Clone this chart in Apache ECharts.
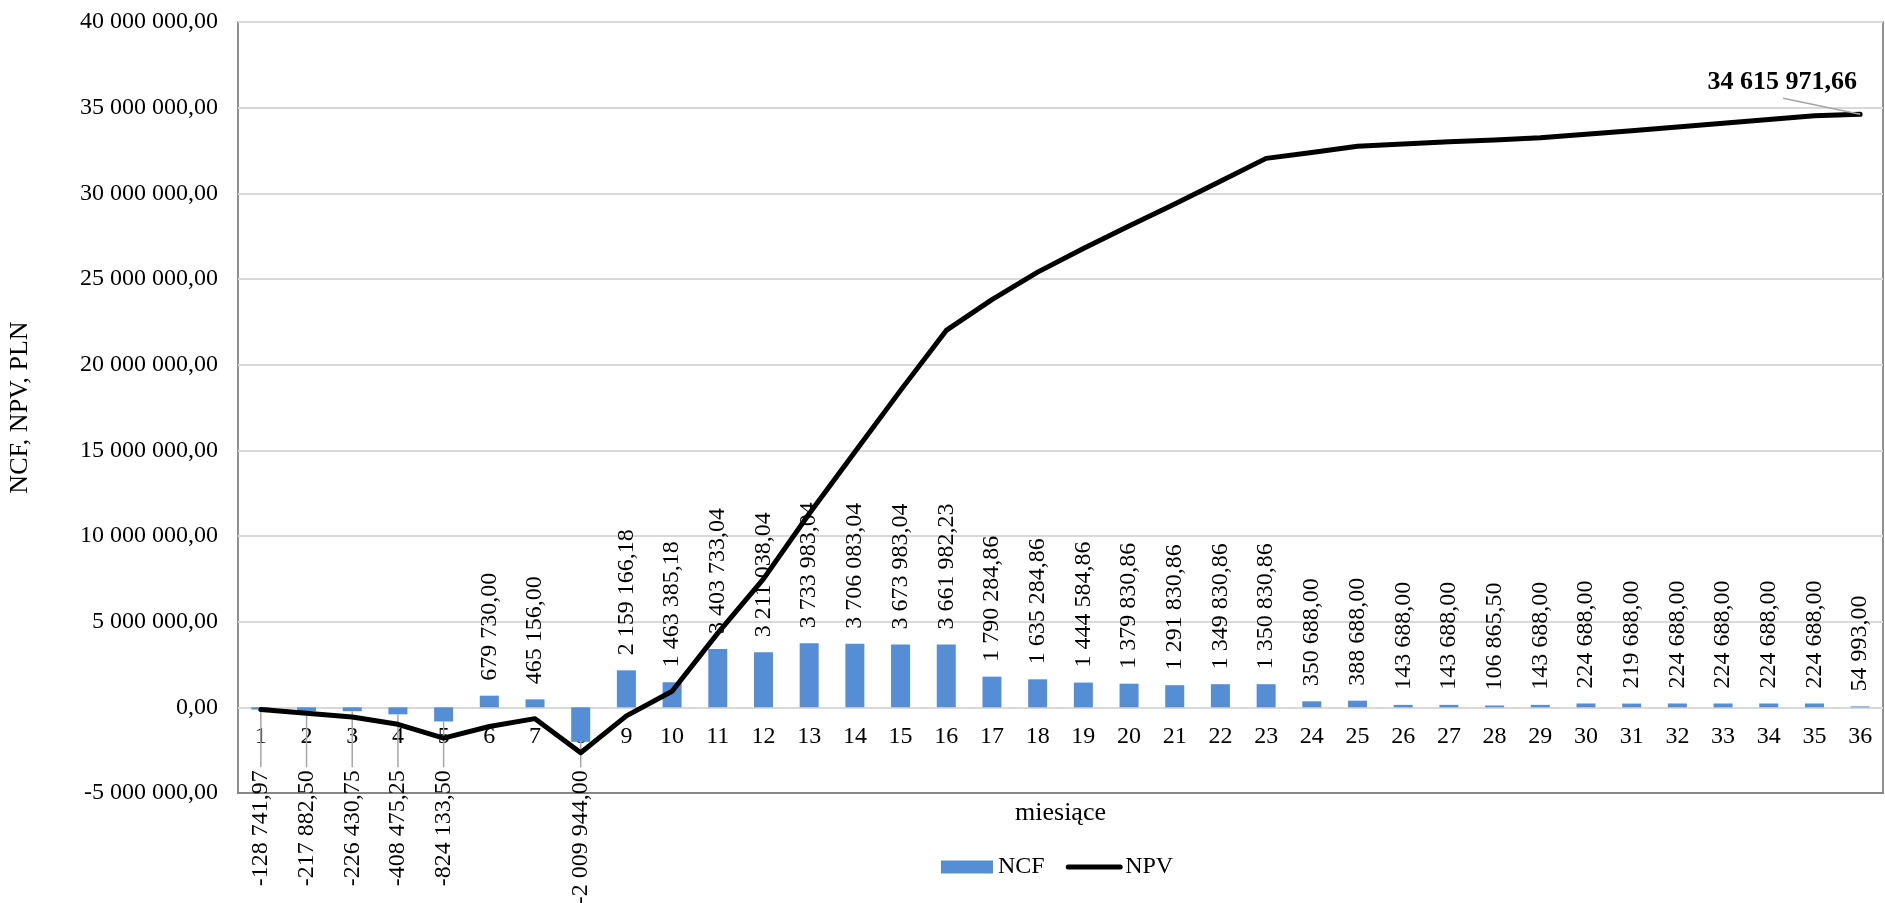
<!DOCTYPE html>
<html>
<head>
<meta charset="utf-8">
<title>NCF i NPV</title>
<script src="https://cdn.jsdelivr.net/npm/echarts@6/dist/echarts.min.js"></script>
<style>
  html, body { margin: 0; padding: 0; background: #ffffff; }
  #chart { width: 1885px; height: 903px; }
</style>
</head>
<body>
<div id="chart"></div>
<script>
// Months of the project horizon
const months = ['1','2','3','4','5','6','7','8','9','10','11','12','13','14','15','16','17','18',
  '19','20','21','22','23','24','25','26','27','28','29','30','31','32','33','34','35','36'];

// Net cash flow per month, PLN
const ncf = [-128741.97, -217882.50, -226430.75, -408475.25, -824133.50, 679730.00, 465156.00,
  -2009944.00, 2159166.18, 1463385.18, 3403733.04, 3211038.04, 3733983.04, 3706083.04,
  3673983.04, 3661982.23, 1790284.86, 1635284.86, 1444584.86, 1379830.86, 1291830.86,
  1349830.86, 1350830.86, 350688.00, 388688.00, 143688.00, 143688.00, 106865.50, 143688.00,
  224688.00, 219688.00, 224688.00, 224688.00, 224688.00, 224688.00, 54993.00];

// Cumulative net present value per month, PLN
const npv = [-128000, -340000, -565000, -990000, -1800000, -1120000, -660000, -2650000,
  -500000, 940000, 4330000, 7500000, 11300000, 14900000, 18500000, 22000000, 23800000,
  25400000, 26780000, 28100000, 29380000, 30700000, 32040000, 32380000, 32750000, 32880000,
  33010000, 33110000, 33240000, 33450000, 33650000, 33870000, 34090000, 34310000, 34530000,
  34615971.66];

// Value axis range and tick step
const yMin = -5000000;
const yMax = 40000000;
const yStep = 5000000;

const FONT = "'Liberation Serif', 'Times New Roman', serif";
const W = 1885, H = 903;
const GRID = { left: 238, right: 2, top: 22, bottom: 110 };

// Polish number format: space as thousands separator, comma as decimal mark
function plFormat(v) {
  const neg = v < 0;
  const parts = Math.abs(v).toFixed(2).split('.');
  const grouped = parts[0].replace(/\B(?=(\d{3})+(?!\d))/g, ' ');
  return (neg ? '-' : '') + grouped + ',' + parts[1];
}

// Month labels sit just under the zero line, so shift them up from the grid bottom
const plotH = H - GRID.top - GRID.bottom;
const zeroFromBottom = plotH * (0 - yMin) / (yMax - yMin);
const monthLabelMargin = 17 - zeroFromBottom;

const chart = echarts.init(document.getElementById('chart'), null, { renderer: 'canvas' });
const lastIdx = npv.length - 1;

chart.setOption({
  animation: false,
  backgroundColor: '#ffffff',
  textStyle: { fontFamily: FONT, color: '#000000' },
  grid: {
    left: GRID.left, right: GRID.right, top: GRID.top, bottom: GRID.bottom,
    containLabel: false,
    outerBoundsMode: 'none',
    show: true,
    borderColor: '#6b6b6b',
    borderWidth: 1.5,
    backgroundColor: 'transparent'
  },
  legend: {
    left: 936, top: 850,
    itemWidth: 52, itemHeight: 13, itemGap: 21,
    textStyle: { fontFamily: FONT, fontSize: 24, color: '#000000' },
    lineStyle: { width: 5, cap: 'round' },
    data: [
      { name: 'NCF', icon: 'rect' },
      { name: 'NPV', itemStyle: { opacity: 0 } }
    ]
  },
  xAxis: {
    type: 'category',
    data: months,
    name: 'miesiące',
    nameLocation: 'middle',
    nameGap: 7,
    nameMoveOverlap: false,
    nameTextStyle: { fontFamily: FONT, fontSize: 26, color: '#000000', verticalAlign: 'top' },
    axisLine: { onZero: false, lineStyle: { color: '#6b6b6b', width: 1.5 } },
    axisTick: { show: false },
    axisLabel: {
      interval: 0,
      margin: monthLabelMargin,
      hideOverlap: false,
      fontFamily: FONT, fontSize: 24, color: '#000000'
    },
    splitLine: { show: false }
  },
  yAxis: {
    type: 'value',
    min: yMin, max: yMax, interval: yStep,
    name: 'NCF, NPV, PLN',
    nameLocation: 'middle',
    nameGap: 205,
    nameRotate: 90,
    nameTextStyle: { fontFamily: FONT, fontSize: 26, color: '#000000' },
    axisLine: { show: false },
    axisTick: { show: false },
    axisLabel: { margin: 20, fontFamily: FONT, fontSize: 24, color: '#000000', formatter: plFormat },
    splitLine: { lineStyle: { color: '#d9d9d9', width: 2 } }
  },
  series: [
    {
      name: 'NCF',
      type: 'bar',
      barWidth: 19,
      z: 2,
      itemStyle: { color: '#558ed5' },
      // negative flows get their labels from the custom series below
      data: ncf.map(v => (v < 0 ? { value: v, label: { show: false } } : v)),
      label: {
        show: true,
        position: 'top',
        distance: 15,
        rotate: 90,
        align: 'left',
        verticalAlign: 'middle',
        fontFamily: FONT,
        fontSize: 24,
        color: '#000000',
        formatter: p => plFormat(p.value)
      }
    },
    {
      // labels of negative flows: one row below the zero line, joined to the bars by leader lines
      name: 'NCF-',
      type: 'custom',
      z: 3,
      silent: true,
      data: ncf.map((v, i) => [i, v]),
      encode: { x: 0, y: 1 },
      renderItem: function (params, api) {
        const v = api.value(1);
        if (v >= 0) { return null; }
        const i = api.value(0);
        const zero = api.coord([i, 0]);
        const end = api.coord([i, v]);
        const labelEnd = zero[1] + 63;
        return {
          type: 'group',
          children: [
            {
              type: 'line',
              shape: { x1: end[0], y1: end[1], x2: end[0], y2: labelEnd - 3 },
              style: { stroke: '#a6a6a6', lineWidth: 1.5 }
            },
            {
              type: 'text',
              x: end[0],
              y: labelEnd,
              rotation: Math.PI / 2,
              style: {
                text: plFormat(v),
                font: '24px ' + FONT,
                fill: '#000000',
                align: 'right',
                textAlign: 'right',
                verticalAlign: 'middle',
                textVerticalAlign: 'middle'
              }
            }
          ]
        };
      }
    },
    {
      name: 'NPV',
      type: 'line',
      z: 5,
      symbol: 'none',
      showSymbol: true,
      showAllSymbol: true,
      itemStyle: { color: '#000000' },
      lineStyle: { color: '#000000', width: 5, cap: 'round', join: 'round' },
      data: npv.map((v, i) => (i === lastIdx
        ? { value: v, symbol: 'circle', symbolSize: 0, label: { show: true } }
        : v)),
      label: {
        show: false,
        position: 'inside',
        offset: [-78, -32],
        fontFamily: FONT,
        fontSize: 26,
        fontWeight: 'bold',
        color: '#000000',
        formatter: p => plFormat(p.value)
      }
    }
  ]
});

// Leader line from the final NPV label to its point
const endPt = chart.convertToPixel({ seriesIndex: 2 }, [lastIdx, npv[lastIdx]]);
chart.setOption({
  graphic: [{
    type: 'line',
    z: 10,
    silent: true,
    shape: { x1: endPt[0] - 77, y1: endPt[1] - 16, x2: endPt[0], y2: endPt[1] },
    style: { stroke: '#a6a6a6', lineWidth: 1.5 }
  }]
});
</script>
</body>
</html>
